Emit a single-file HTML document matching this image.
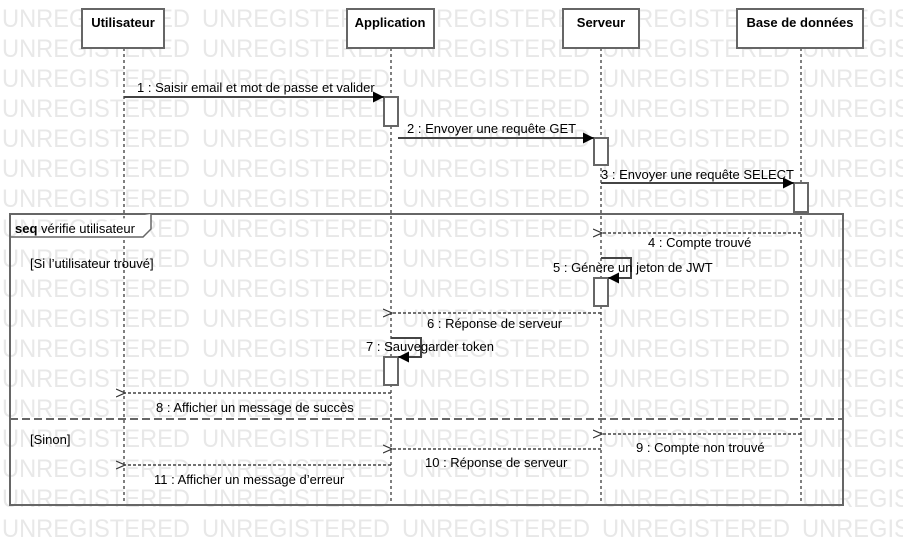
<!DOCTYPE html>
<html><head><meta charset="utf-8"><style>
html,body{margin:0;padding:0;background:#fff;}
svg{display:block;font-family:"Liberation Sans",sans-serif;}
</style></head><body>
<svg width="903" height="546" viewBox="0 0 903 546" xmlns="http://www.w3.org/2000/svg">
<defs>
<marker id="f" viewBox="0 0 10 10" refX="10" refY="5" markerWidth="11" markerHeight="11" markerUnits="userSpaceOnUse" orient="auto"><path d="M0,0 L10,5 L0,10 z" fill="#000"/></marker>
<marker id="o" viewBox="0 0 10 10" refX="1" refY="5" markerWidth="10" markerHeight="10" markerUnits="userSpaceOnUse" orient="auto"><path d="M10,1 L1,5 L10,9" fill="none" stroke="#333" stroke-width="1.2"/></marker>
</defs>
<g fill="#e8e8e8" font-size="25">
<g id="row">
<text x="2" y="27" textLength="188" lengthAdjust="spacingAndGlyphs">UNREGISTERED</text>
<text x="202" y="27" textLength="188" lengthAdjust="spacingAndGlyphs">UNREGISTERED</text>
<text x="402" y="27" textLength="188" lengthAdjust="spacingAndGlyphs">UNREGISTERED</text>
<text x="602" y="27" textLength="188" lengthAdjust="spacingAndGlyphs">UNREGISTERED</text>
<text x="802" y="27" textLength="188" lengthAdjust="spacingAndGlyphs">UNREGISTERED</text>
</g>
<use href="#row" y="30"/><use href="#row" y="60"/><use href="#row" y="90"/><use href="#row" y="120"/><use href="#row" y="150"/><use href="#row" y="180"/><use href="#row" y="210"/><use href="#row" y="240"/><use href="#row" y="270"/><use href="#row" y="300"/><use href="#row" y="330"/><use href="#row" y="360"/><use href="#row" y="390"/><use href="#row" y="420"/><use href="#row" y="450"/><use href="#row" y="480"/><use href="#row" y="510"/>
</g>
<g stroke="#000" stroke-width="1" stroke-dasharray="3,3">
<line x1="124" y1="48" x2="124" y2="505"/>
<line x1="391" y1="48" x2="391" y2="505"/>
<line x1="601" y1="48" x2="601" y2="505"/>
<line x1="801" y1="48" x2="801" y2="505"/>
</g>
<g fill="#fff" stroke="#666" stroke-width="2">
<rect x="82" y="9" width="82" height="39"/>
<rect x="347" y="9" width="87" height="39"/>
<rect x="563" y="9" width="76" height="39"/>
<rect x="737" y="9" width="126" height="39"/>
</g>
<g font-size="13" font-weight="bold" text-anchor="middle" fill="#000">
<text x="123" y="27">Utilisateur</text>
<text x="390" y="27">Application</text>
<text x="601" y="27">Serveur</text>
<text x="800" y="27">Base de données</text>
</g>
<rect x="10" y="214" width="833" height="291" fill="none" stroke="#666" stroke-width="2"/>
<path d="M10,237 L143,237 L151,229 L151,214" fill="#fff" stroke="#666" stroke-width="1.5"/>
<line x1="10" y1="419" x2="843" y2="419" stroke="#666" stroke-width="2" stroke-dasharray="8,4"/>
<g font-size="13" fill="#000">
<text x="15" y="233"><tspan font-weight="bold">seq</tspan> vérifie utilisateur</text>
<text x="30" y="268">[Si l’utilisateur trouvé]</text>
<text x="30" y="444">[Sinon]</text>
</g>
<g fill="#fff" stroke="#666" stroke-width="2">
<rect x="384" y="97" width="14" height="29"/>
<rect x="594" y="138" width="14" height="27"/>
<rect x="794" y="183" width="14" height="29"/>
<rect x="594" y="278" width="14" height="28"/>
<rect x="384" y="357" width="14" height="28"/>
</g>
<g stroke="#444" stroke-width="2" fill="none">
<line x1="124" y1="97" x2="384" y2="97" marker-end="url(#f)"/>
<line x1="398" y1="138" x2="594" y2="138" marker-end="url(#f)"/>
<line x1="601" y1="183" x2="794" y2="183" marker-end="url(#f)"/>
<path d="M601,258 L631,258 L631,278 L608,278" marker-end="url(#f)"/>
<path d="M391,338 L421,338 L421,357 L398,357" marker-end="url(#f)"/>
</g>
<g stroke="#444" stroke-width="1.5" stroke-dasharray="3,2" fill="none">
<line x1="801" y1="233" x2="602" y2="233" marker-end="url(#o)"/>
<line x1="601" y1="313" x2="392" y2="313" marker-end="url(#o)"/>
<line x1="391" y1="393" x2="125" y2="393" marker-end="url(#o)"/>
<line x1="801" y1="434" x2="602" y2="434" marker-end="url(#o)"/>
<line x1="601" y1="449" x2="392" y2="449" marker-end="url(#o)"/>
<line x1="391" y1="465" x2="125" y2="465" marker-end="url(#o)"/>
</g>
<g font-size="13" fill="#000">
<text x="137" y="92">1 : Saisir email et mot de passe et valider</text>
<text x="407" y="133">2 : Envoyer une requête GET</text>
<text x="601" y="179">3 : Envoyer une requête SELECT</text>
<text x="648" y="247">4 : Compte trouvé</text>
<text x="553" y="272">5 : Génère un jeton de JWT</text>
<text x="427" y="328">6 : Réponse de serveur</text>
<text x="366" y="351">7 : Sauvegarder token</text>
<text x="156" y="412">8 : Afficher un message de succès</text>
<text x="636" y="452">9 : Compte non trouvé</text>
<text x="425" y="467">10 : Réponse de serveur</text>
<text x="154" y="484">11 : Afficher un message d’erreur</text>
</g>
</svg>
</body></html>
